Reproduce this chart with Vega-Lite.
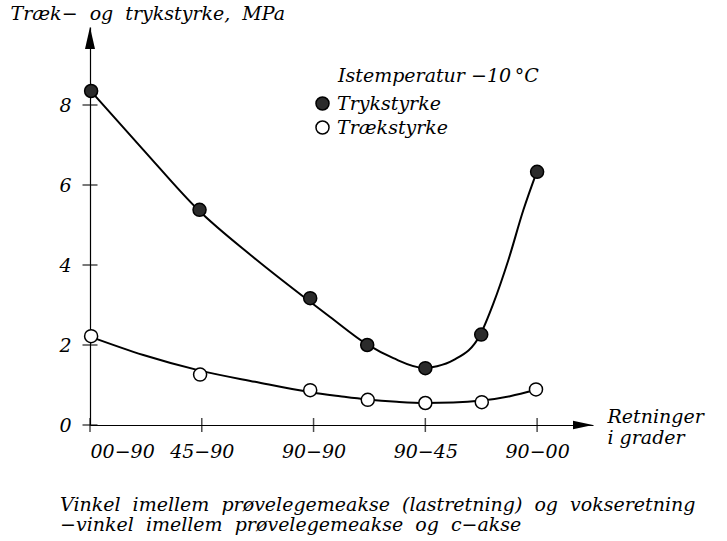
{
  "$schema": "https://vega.github.io/schema/vega-lite/v6.json",
  "width": 503,
  "height": 398,
  "autosize": {"type": "none"},
  "padding": {"left": 90, "top": 27, "right": 134, "bottom": 116},
  "background": "white",
  "config": {
    "view": {"stroke": null},
    "font": "DejaVu Serif",
    "axis": {"grid": false, "ticks": false, "tickSize": 0, "domainColor": "black", "domainWidth": 1.2, "labelColor": "black", "titleColor": "black", "labelFont": "DejaVu Serif", "titleFont": "DejaVu Serif", "labelFontStyle": "italic", "titleFontStyle": "italic", "titleFontWeight": "normal", "labelFontSize": 19, "titleFontSize": 19}
  },
  "title": {
    "text": ["Vinkel\u00a0 imellem\u00a0 prøvelegemeakse\u00a0 (lastretning)\u00a0 og\u00a0 vokseretning", "−vinkel\u00a0 imellem\u00a0 prøvelegemeakse\u00a0 og\u00a0 c−akse"],
    "orient": "bottom", "anchor": "start", "frame": "group", "dx": -30, "offset": 35,
    "font": "DejaVu Serif", "fontSize": 19, "fontStyle": "italic", "fontWeight": "normal", "lineHeight": 20, "color": "black", "limit": 700
  },
  "datasets": {
    "points": [
      {"series": "Trykstyrke", "x": 0.01, "y": 8.35},
      {"series": "Trykstyrke", "x": 0.98, "y": 5.38},
      {"series": "Trykstyrke", "x": 1.97, "y": 3.17},
      {"series": "Trykstyrke", "x": 2.48, "y": 2.0},
      {"series": "Trykstyrke", "x": 3.0, "y": 1.42},
      {"series": "Trykstyrke", "x": 3.5, "y": 2.26},
      {"series": "Trykstyrke", "x": 4.0, "y": 6.33},
      {"series": "Trækstyrke", "x": 0.01, "y": 2.22},
      {"series": "Trækstyrke", "x": 0.985, "y": 1.26},
      {"series": "Trækstyrke", "x": 1.97, "y": 0.87},
      {"series": "Trækstyrke", "x": 2.485, "y": 0.63},
      {"series": "Trækstyrke", "x": 3.0, "y": 0.55},
      {"series": "Trækstyrke", "x": 3.505, "y": 0.57},
      {"series": "Trækstyrke", "x": 3.99, "y": 0.89}
    ],
    "curves": [
      {"series": "Trykstyrke", "x": 0.0, "y": 8.37},
      {"series": "Trykstyrke", "x": 0.477, "y": 6.88},
      {"series": "Trykstyrke", "x": 0.969, "y": 5.375},
      {"series": "Trykstyrke", "x": 1.459, "y": 4.2},
      {"series": "Trykstyrke", "x": 1.969, "y": 3.08},
      {"series": "Trykstyrke", "x": 2.148, "y": 2.7},
      {"series": "Trykstyrke", "x": 2.476, "y": 2.02},
      {"series": "Trykstyrke", "x": 2.714, "y": 1.67},
      {"series": "Trykstyrke", "x": 2.983, "y": 1.43},
      {"series": "Trykstyrke", "x": 3.105, "y": 1.47},
      {"series": "Trykstyrke", "x": 3.251, "y": 1.62},
      {"series": "Trykstyrke", "x": 3.49, "y": 2.25},
      {"series": "Trykstyrke", "x": 3.609, "y": 3.04},
      {"series": "Trykstyrke", "x": 3.743, "y": 4.125},
      {"series": "Trykstyrke", "x": 3.877, "y": 5.375},
      {"series": "Trykstyrke", "x": 3.997, "y": 6.33},
      {"series": "Trækstyrke", "x": 0.0, "y": 2.21},
      {"series": "Trækstyrke", "x": 0.477, "y": 1.75},
      {"series": "Trækstyrke", "x": 0.984, "y": 1.36},
      {"series": "Trækstyrke", "x": 1.477, "y": 1.08},
      {"series": "Trækstyrke", "x": 1.969, "y": 0.82},
      {"series": "Trækstyrke", "x": 2.237, "y": 0.72},
      {"series": "Trækstyrke", "x": 2.476, "y": 0.64},
      {"series": "Trækstyrke", "x": 2.745, "y": 0.58},
      {"series": "Trækstyrke", "x": 2.998, "y": 0.55},
      {"series": "Trækstyrke", "x": 3.248, "y": 0.56},
      {"series": "Trækstyrke", "x": 3.505, "y": 0.61},
      {"series": "Trækstyrke", "x": 3.758, "y": 0.72},
      {"series": "Trækstyrke", "x": 3.988, "y": 0.88}
    ],
    "yticks": [{"v": 0}, {"v": 2}, {"v": 4}, {"v": 6}, {"v": 8}],
    "xticks": [{"v": 0}, {"v": 1}, {"v": 2}, {"v": 3}, {"v": 4}],
    "arrows": [{"dir": "up", "x": 0, "y": 9.95}, {"dir": "right", "x": 4.5, "y": 0}]
  },
  "encoding": {
    "x": {"type": "quantitative"},
    "y": {"type": "quantitative"}
  },
  "layer": [
    {
      "data": {"name": "curves"},
      "mark": {"type": "line", "interpolate": "monotone", "stroke": "black", "strokeWidth": 2},
      "encoding": {
        "x": {"field": "x", "type": "quantitative", "scale": {"domain": [0, 4.5], "nice": false, "zero": false},
          "axis": {"values": [0, 1, 2, 3, 4], "labelExpr": "['00−90','45−90','90−90','90−45','90−00'][datum.value]", "labelPadding": 17, "title": ["Retninger", "i grader"], "titleX": 517, "titleY": -3, "titleAlign": "left", "titleBaseline": "alphabetic", "titleAngle": 0, "titleLineHeight": 21}},
        "y": {"field": "y", "type": "quantitative", "scale": {"domain": [0, 9.95], "nice": false},
          "axis": {"values": [0, 2, 4, 6, 8], "labelPadding": 19, "title": "Træk−\u00a0 og\u00a0 trykstyrke,\u00a0 MPa", "titleAngle": 0, "titleX": -80, "titleY": -8, "titleAlign": "left", "titleBaseline": "alphabetic", "titleLimit": 400}},
        "detail": {"field": "series"}
      }
    },
    {
      "data": {"name": "yticks"},
      "mark": {"type": "tick", "orient": "horizontal", "color": "black", "size": 15, "thickness": 1.5},
      "encoding": {"y": {"field": "v", "type": "quantitative"}, "x": {"datum": 0, "type": "quantitative"}}
    },
    {
      "data": {"name": "xticks"},
      "mark": {"type": "tick", "orient": "vertical", "color": "black", "size": 14, "thickness": 1.5},
      "encoding": {"x": {"field": "v", "type": "quantitative"}, "y": {"datum": 0, "type": "quantitative"}}
    },
    {
      "data": {"name": "arrows"},
      "mark": {"type": "point", "filled": true, "color": "black", "size": 400, "opacity": 1},
      "encoding": {
        "x": {"field": "x", "type": "quantitative"},
        "y": {"field": "y", "type": "quantitative"},
        "shape": {"field": "dir", "type": "nominal", "scale": {"domain": ["up", "right"], "range": ["M0,0L-0.5,2.2L0.5,2.2Z", "M0,0L-2,-0.42L-2,0.42Z"]}, "legend": null}
      }
    },
    {
      "data": {"name": "points"},
      "mark": {"type": "circle", "size": 170, "stroke": "black", "strokeWidth": 1.5, "opacity": 1},
      "encoding": {
        "x": {"field": "x", "type": "quantitative"},
        "y": {"field": "y", "type": "quantitative"},
        "fill": {"field": "series", "type": "nominal", "scale": {"domain": ["Trykstyrke", "Trækstyrke"], "range": ["#2b2b2b", "white"]},
          "legend": {"title": "Istemperatur −10\u2009°C", "orient": "none", "legendX": 248, "legendY": 40, "titleFont": "DejaVu Serif", "labelFont": "DejaVu Serif", "titleFontSize": 19, "labelFontSize": 19, "titleFontStyle": "italic", "labelFontStyle": "italic", "titleFontWeight": "normal", "titleColor": "black", "labelColor": "black", "titleLimit": 400, "labelLimit": 300, "symbolType": "circle", "symbolSize": 170, "symbolStrokeColor": "black", "symbolStrokeWidth": 1.5, "symbolOffset": -25, "rowPadding": 3, "labelOffset": 5, "titlePadding": 8}}
      }
    }
  ]
}
